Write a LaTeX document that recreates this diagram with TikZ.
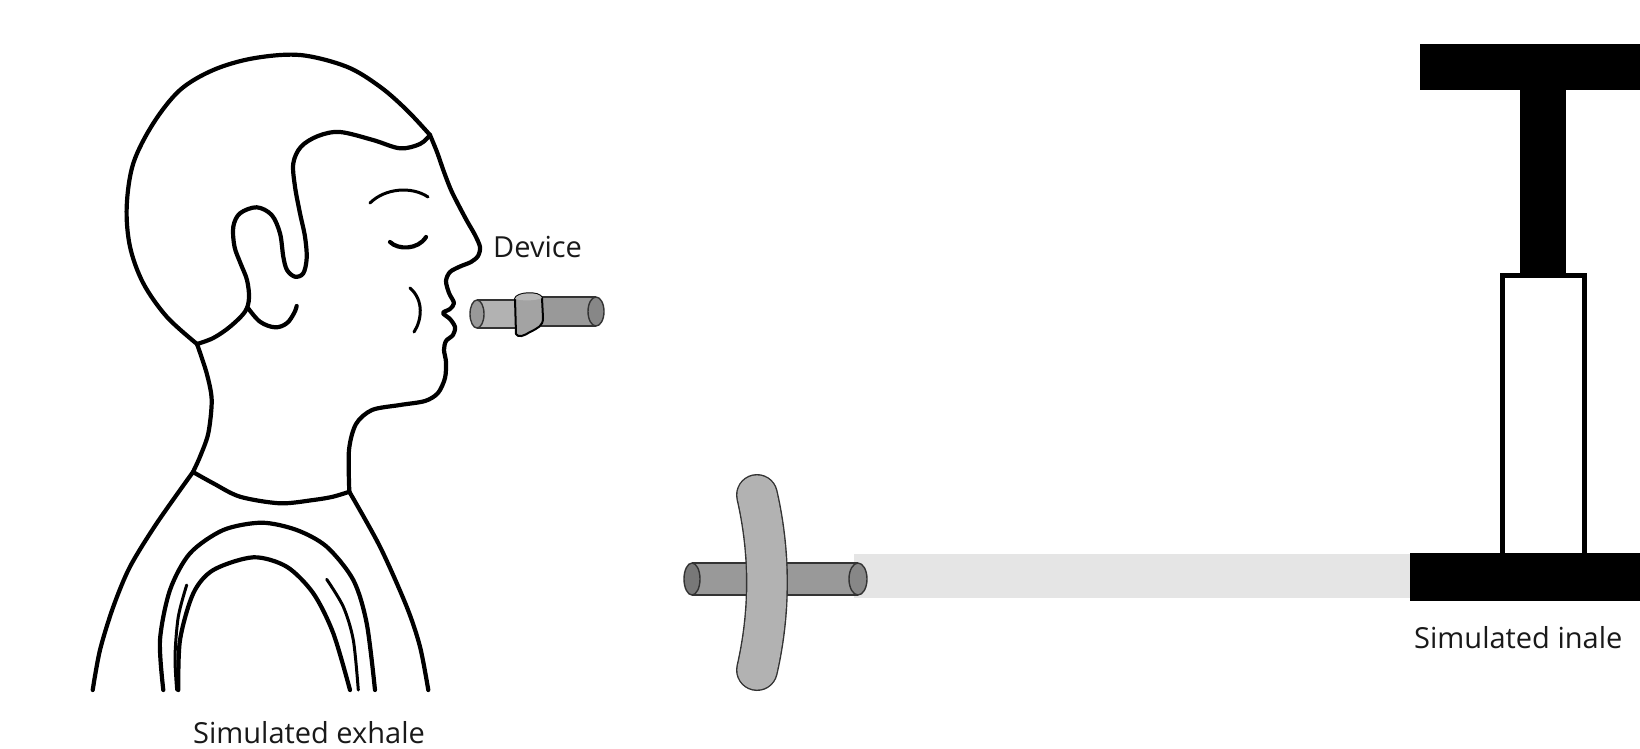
\documentclass[tikz,border=0pt]{standalone}
\usepackage{fontspec}
\setmainfont{Open Sans}
\begin{document}
\begin{tikzpicture}[x=1pt,y=-1pt,
  ink/.style={line width=4.2pt, line cap=round, line join=round},
  fineink/.style={line width=3pt, line cap=round, line join=round},
  tubeline/.style={draw=black!80, line width=1.4pt},
  caption/.style={font=\fontsize{29}{34}\selectfont, text=black!90, inner sep=0pt, anchor=base west}]
\useasboundingbox (0,0) rectangle (1640,748);

% ---------- person ----------
% skull
\draw[ink] plot[smooth, tension=0.55] coordinates {
  (430,135) (406.7,110) (380,86.7) (346.7,66.7) (300,55) (253.3,58.3)
  (213.3,70) (180,90) (153.3,123.3) (133.3,163.3) (126.7,206.7) (130,246.7)
  (143.3,283.3) (166.7,316.7) (197,344)};
% hairline with ear and sideburn
\draw[ink] plot[smooth, tension=0.55] coordinates {
  (197,344) (213.3,338) (230,326.7) (245,311.7) (249,298) (247,280)
  (240.5,263.3) (234.5,246.7) (233.3,226.7) (240,213.3) (256.7,207.3)
  (271.7,215) (280,233.3) (283.3,256.7) (287,270) (295,276.7) (303.3,273.3)
  (306.7,258) (305,236.7) (300,213.3) (295,186.7) (293.3,163.3) (301,146.7)
  (318,136) (340,132) (373,140) (400,148.3) (420,144) (430,135)};
% ear lobe
\draw[ink] plot[smooth, tension=0.6] coordinates {
  (248,308) (260,321.7) (275,327.3) (286.7,323.3) (294,313.3) (296.7,306)};
% face profile
\draw[ink] plot[smooth, tension=0.5] coordinates {
  (430,135) (437,152) (444,172) (451,190) (459,206) (467,221) (475,235)
  (480,247) (478,256) (471,262) (460,266.5) (450,272) (446,281) (449,293)
  (454,303) (450,309) (443,313) (450,319) (455,327) (453,335) (446,341)
  (444,350) (446,362) (445,378) (438,393) (425,401) (400,405) (372,410)
  (356,424) (349,450) (349.3,491.7)};
% front shoulder
\draw[ink] plot[smooth, tension=0.5] coordinates {
  (349.3,491.7) (380,546.7) (406.7,606.7) (420,646.7) (428.3,690)};
% collar
\draw[ink] plot[smooth, tension=0.5] coordinates {
  (349.3,491.7) (333,496.7) (313.3,500) (280,503.3) (240,496.7) (213.3,483.3)
  (193,472)};
% back of neck
\draw[ink] plot[smooth, tension=0.5] coordinates {
  (197,344) (206.7,373.3) (211.7,400) (208.3,433.3) (200,456.7) (193,472)};
% back shoulder
\draw[ink] plot[smooth, tension=0.5] coordinates {
  (193,472) (156.7,523.3) (130,566.7) (113.3,606.7) (100,650) (92.7,690)};
% outer strap
\draw[ink] plot[smooth, tension=0.5] coordinates {
  (163.3,690) (160,640) (170,590) (190,553.3) (223.3,530) (261.7,522.7)
  (296.7,530) (326.7,546.7) (353.3,580) (366.7,623.3) (375,690)};
% inner strap
\draw[ink] plot[smooth, tension=0.5] coordinates {
  (178.3,690) (180,640) (193.3,593.3) (213.3,570) (253.3,557.3)
  (286.7,566.7) (313.3,593.3) (333.3,633.3) (350,690)};
% strap highlights
\draw[fineink] plot[smooth, tension=0.5] coordinates {
  (186.7,585) (178.3,616.7) (175,656.7) (176.7,690)};
\draw[fineink] plot[smooth, tension=0.5] coordinates {
  (326.7,579.3) (343.3,606.7) (353.3,640) (358.3,690)};
% eyebrow, closed eye, cheek
\draw[fineink] (370,203) .. controls (385,188) and (412,186) .. (428,197);
\draw[ink] (390,242) .. controls (398,250) and (418,250) .. (426,237);
\draw[fineink] (410,288) .. controls (424,300) and (422,320) .. (414,332);

% ---------- device at the mouth ----------
\fill[black!30] (477,300) rectangle (516,328);
\draw[tubeline] (477,300) -- (516,300) (477,328) -- (516,328);
\filldraw[tubeline, fill=black!40] (477,314) ellipse [x radius=7, y radius=14];
\fill[black!40] (541,297) rectangle (596,326);
\draw[tubeline] (541,297) -- (596,297) (541,326) -- (596,326);
\filldraw[tubeline, fill=black!47] (596,311.5) ellipse [x radius=8, y radius=14.5];
% collar
\filldraw[draw=black, line width=2pt, fill=black!36]
  (515,299) .. controls (516,292) and (540,291) .. (542,298)
  -- (543,318) .. controls (543,326) and (538,328) .. (530,332)
  .. controls (524,336) and (518,338) .. (516,334) -- cycle;
\fill[black!28]
  (515,299) .. controls (516,292) and (540,291) .. (542,298)
  .. controls (535,301) and (522,301) .. (515,299);

% ---------- device on the test line ----------
\fill[black!10] (854,554) rectangle (1410,598);
\fill[black!40] (692,563) rectangle (858,595);
\draw[tubeline] (692,563) -- (858,563) (692,595) -- (858,595);
\filldraw[tubeline, fill=black!53] (692,579) ellipse [x radius=8, y radius=16];
\filldraw[tubeline, fill=black!47] (858,579) ellipse [x radius=9, y radius=16];
\draw[line width=42pt, black!80, line cap=round]
  (757,495) .. controls (770.3,553) and (770.3,612) .. (757,670);
\draw[line width=39.2pt, black!30, line cap=round]
  (757,495) .. controls (770.3,553) and (770.3,612) .. (757,670);

% ---------- pump ----------
\fill (1420,44) rectangle (1640,90);
\fill (1520,88) rectangle (1566,276);
\filldraw[fill=white, line width=5pt] (1502.5,275.5) rectangle (1584.5,556);
\fill (1410,553) rectangle (1640,601);

% ---------- captions ----------
\node[caption] (dev) at (493,257) {Device};
\node[caption] (inh) at (1414,648) {Simulated inale};
\node[caption] (exh) at (193,743) {Simulated exhale};
\end{tikzpicture}
\end{document}
